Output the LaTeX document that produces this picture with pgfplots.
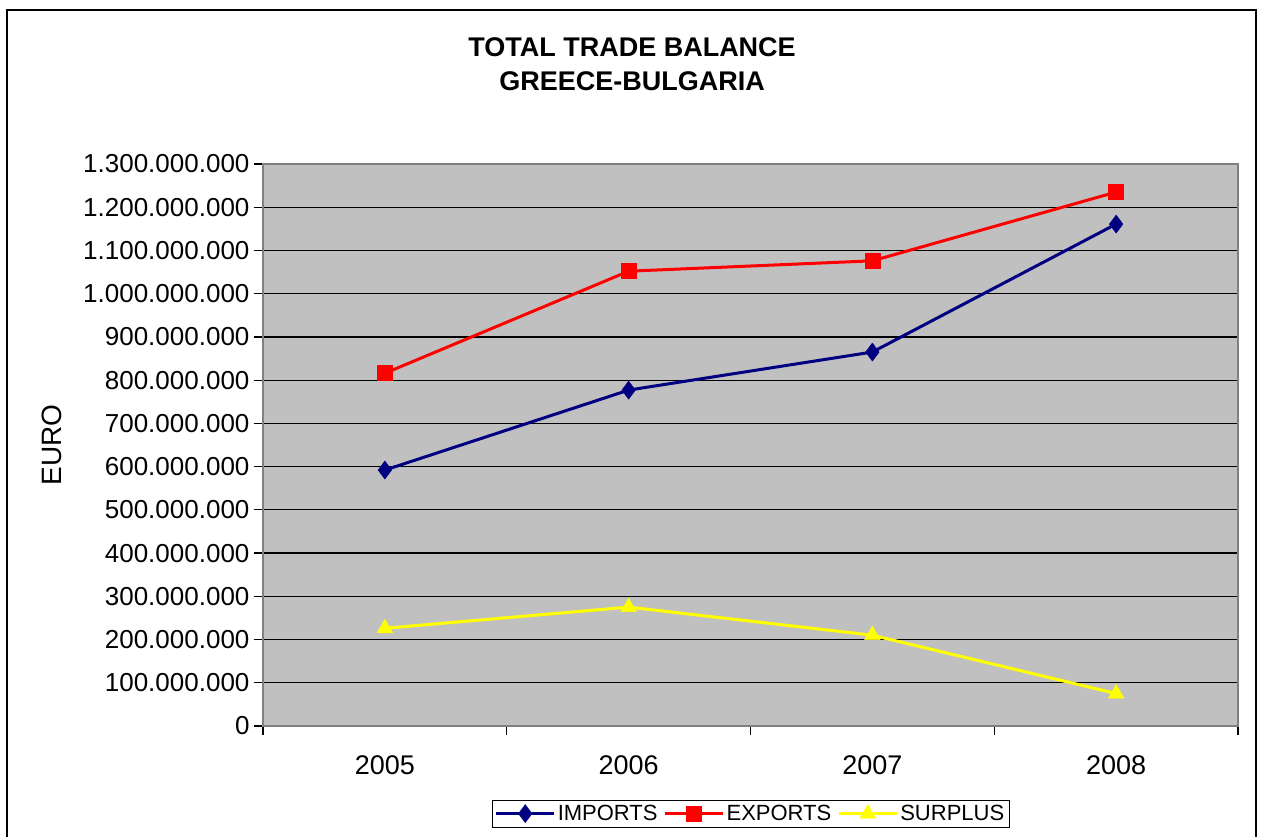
\documentclass[border=0pt]{standalone}
\usepackage{pgfplots}
\pgfplotsset{compat=1.18}
\usepackage{fontspec}
\setmainfont{Liberation Sans}
\definecolor{plotbg}{HTML}{C0C0C0}
\definecolor{impc}{HTML}{000080}
\definecolor{expc}{HTML}{FF0000}
\definecolor{surc}{HTML}{FFFF00}
\begin{document}
\begin{tikzpicture}
\path[use as bounding box] (0pt,0pt) rectangle (1262pt,837pt);
\draw[line width=1.8pt] (7pt,-10pt) -- (7pt,827pt) -- (1256pt,827pt) -- (1256pt,-10pt);
\begin{axis}[
  at={(263pt,111pt)}, anchor=south west,
  width=975pt, height=562pt, scale only axis,
  xmin=-0.5, xmax=3.5, ymin=0, ymax=1300000000,
  scaled y ticks=false,
  axis background/.style={fill=plotbg},
  axis line style={draw=gray, line width=1.5pt},
  xtick pos=bottom, ytick pos=left,
  xtick={-0.5,0.5,1.5,2.5,3.5}, xticklabels={},
  extra x ticks={0,1,2,3},
  extra x tick labels={2005,2006,2007,2008},
  extra x tick style={major tick length=0pt, grid=none},
  ytick={0,100000000,200000000,300000000,400000000,500000000,600000000,700000000,800000000,900000000,1000000000,1100000000,1200000000,1300000000},
  yticklabels={0,100.000.000,200.000.000,300.000.000,400.000.000,500.000.000,600.000.000,700.000.000,800.000.000,900.000.000,1.000.000.000,1.100.000.000,1.200.000.000,1.300.000.000},
  tick align=outside, major tick length=9pt,
  tick style={black, line width=1.2pt},
  ymajorgrids, xmajorgrids=false,
  major grid style={black, line width=1.2pt},
  yticklabel style={font=\fontsize{26}{30}\selectfont, xshift=-1pt},
  xticklabel style={font=\fontsize{27}{30}\selectfont, yshift=-26pt},
  ylabel={EURO},
  ylabel style={at={(axis description cs:-0.2164,0.5)}, anchor=center, font=\fontsize{28}{34}\selectfont},
  title={TOTAL TRADE BALANCE\\GREECE-BULGARIA},
  title style={at={(axis description cs:0.3785,1.167)}, anchor=center, align=center, font=\bfseries\fontsize{27}{34}\selectfont},
  legend columns=3,
  legend style={at={(0.5,-0.1317)}, anchor=north, draw=black, fill=white,
    font=\fontsize{22}{26}\selectfont, inner sep=3pt,
    /tikz/every even column/.append style={column sep=4pt}},
  legend image code/.code={\draw[mark repeat=2,mark phase=2,#1] plot coordinates {(0pt,0pt)(29pt,0pt)(58pt,0pt)};},
]
\addplot[impc, line width=3pt, mark=diamond*, mark size=9pt, mark options={solid, fill=impc, line width=0.5pt}]
  coordinates {(0,592000000) (1,777000000) (2,865000000) (3,1161000000)};
\addplot[expc, line width=3pt, mark=square*, mark size=7.5pt, mark options={solid, fill=expc, line width=0.5pt}]
  coordinates {(0,816000000) (1,1052000000) (2,1076000000) (3,1235000000)};
\addplot[surc, line width=3pt, mark=triangle*, mark size=9pt, mark options={solid, fill=surc, line width=0.5pt}]
  coordinates {(0,226000000) (1,275000000) (2,210000000) (3,75000000)};
\legend{IMPORTS,EXPORTS,SURPLUS}
\end{axis}
\end{tikzpicture}
\end{document}
